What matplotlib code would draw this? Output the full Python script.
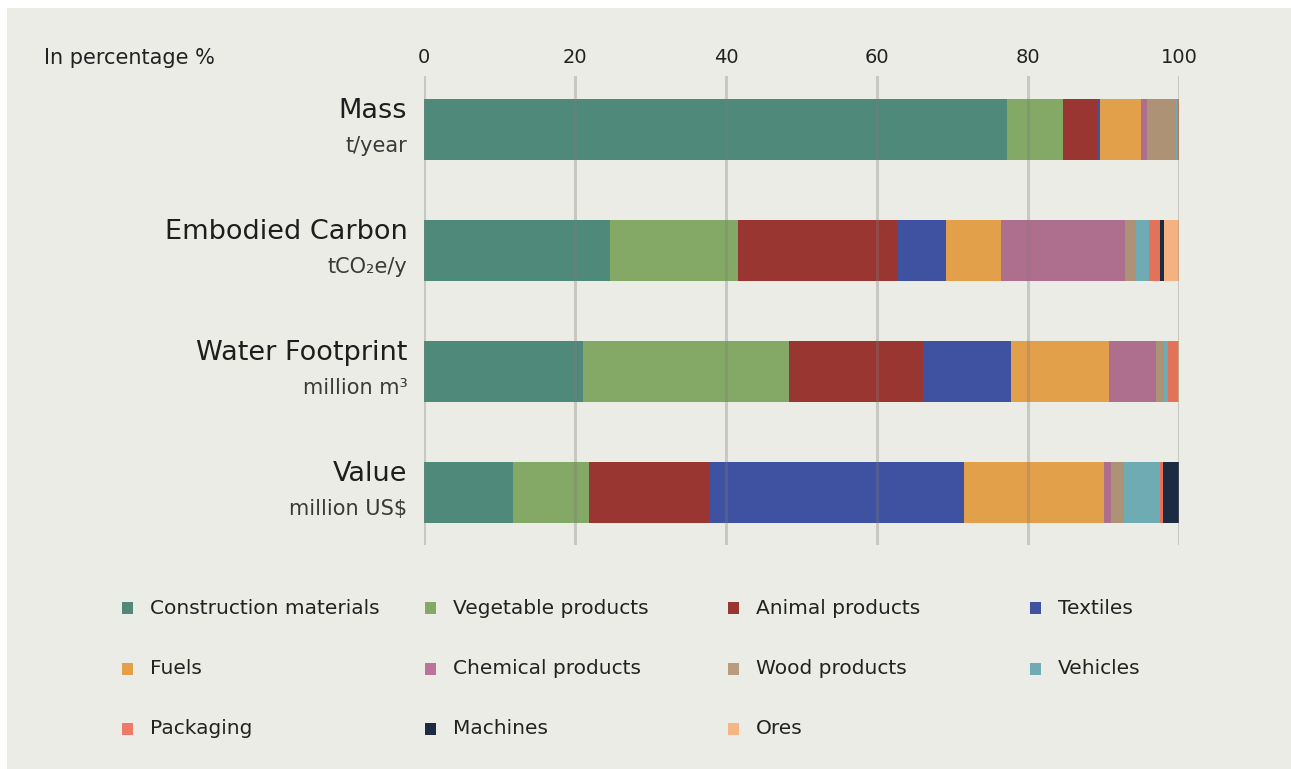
import matplotlib
matplotlib.use("Agg")
import matplotlib.pyplot as plt
from matplotlib.patches import Rectangle
import numpy as np

# ---- data ----
metrics = ["Mass", "Embodied Carbon", "Water Footprint", "Value"]
units = ["t/year", "tCO\u2082e/y", "million m\u00b3", "million US$"]
categories = ["Construction materials", "Vegetable products", "Animal products", "Textiles",
              "Fuels", "Chemical products", "Wood products", "Vehicles",
              "Packaging", "Machines", "Ores"]
construction = [77.2, 24.6, 21.1, 11.8]
vegetable    = [7.4, 17.0, 27.2, 10.1]
animal       = [4.5, 21.0, 17.8, 15.8]
textiles     = [0.4, 6.5, 11.6, 33.8]
fuels        = [5.5, 7.3, 13.0, 18.6]
chemical     = [0.8, 16.4, 6.3, 0.9]
wood         = [3.8, 1.5, 1.0, 1.7]
vehicles     = [0.2, 1.7, 0.5, 4.8]
packaging    = [0.2, 1.5, 1.4, 0.4]
machines     = [0.0, 0.5, 0.0, 2.1]
ores         = [0.0, 2.0, 0.1, 0.0]
series = [construction, vegetable, animal, textiles, fuels, chemical,
          wood, vehicles, packaging, machines, ores]
ticks = [0, 20, 40, 60, 80, 100]

colors = ["#4e897a", "#84a866", "#993631", "#3f52a1", "#e2a04b", "#ae6e8e",
          "#ad9276", "#6eabb2", "#e2735a", "#1b2c42", "#f4b281"]
legend_colors = ["#4e897a", "#84a866", "#993631", "#3f52a1", "#e2a04b", "#bd729a",
                 "#b99c80", "#6eabb2", "#f07a66", "#1b2c42", "#f6b584"]

W, H = 1291, 769
BG = "#ecece7"
FONT = ["DejaVu Sans"]
plt.rcParams["font.family"] = FONT

fig = plt.figure(figsize=(W / 100, H / 100), dpi=100)
fig.patch.set_facecolor("white")
fig.add_artist(Rectangle((7 / W, 0), 1, 1 - 8 / H, transform=fig.transFigure,
                         facecolor=BG, edgecolor="none", zorder=-10))

left_px, right_px, top_px, bot_px = 424, 1179, 76, 545
ax = fig.add_axes([left_px / W, 1 - bot_px / H, (right_px - left_px) / W, (bot_px - top_px) / H])
ax.set_facecolor("none")

y = np.arange(len(metrics))
cum = np.zeros(len(metrics))
for vals, c in zip(series, colors):
    v = np.array(vals)
    ax.barh(y, v, left=cum, height=0.505, color=c, edgecolor="none", zorder=2)
    cum += v

for t in ticks:
    ax.axvline(t, color="#7d7d7a", alpha=0.32, lw=2.2, zorder=3)

ax.set_xlim(0, 100)
ax.set_ylim(3.434, -0.442)
for s in ax.spines.values():
    s.set_visible(False)
ax.set_yticks([])
ax.xaxis.tick_top()
ax.set_xticks(ticks)
ax.set_xticklabels([str(t) for t in ticks], fontsize=14, color="#222222")
ax.tick_params(axis="x", length=0, pad=6.5)

# metric labels
for i, (m, u) in enumerate(zip(metrics, units)):
    ax.annotate(m, xy=(0, i), xycoords="data", xytext=(-12, 13.2), textcoords="offset points",
                ha="right", va="center", fontsize=19.5, color="#1e1e1e")
    ax.annotate(u, xy=(0, i), xycoords="data", xytext=(-12, -12.2), textcoords="offset points",
                ha="right", va="center", fontsize=15, color="#3a3a3a")

fig.text(44 / W, 1 - 58 / H, "In percentage %", fontsize=15, color="#222222",
         ha="left", va="center")

# legend
col_x = [122, 425, 728, 1030]
row_y = [608, 669, 729]
for k, (name, c) in enumerate(zip(categories, legend_colors)):
    r, cidx = divmod(k, 4)
    x0, y0 = col_x[cidx], row_y[r]
    fig.add_artist(Rectangle((x0 / W, 1 - (y0 + 6) / H), 11 / W, 12 / H,
                             transform=fig.transFigure, facecolor=c, edgecolor="none"))
    fig.text((x0 + 28) / W, 1 - y0 / H, name, fontsize=14.5, color="#222222",
             ha="left", va="center")

fig.savefig("out.png", dpi=100, facecolor=fig.get_facecolor())
